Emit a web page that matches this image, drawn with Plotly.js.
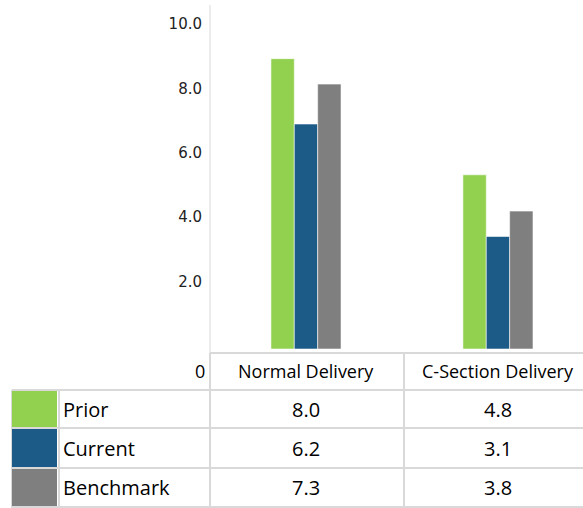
<!DOCTYPE html>
<html><head><meta charset="utf-8">
<script src="https://cdn.plot.ly/plotly-3.0.1.min.js"></script>
<style>html,body{margin:0;padding:0;background:#fff}#chart{width:583px;height:508px}</style>
</head><body><div id="chart"></div>
<script>
const categories = ['Normal Delivery', 'C-Section Delivery'];
const seriesNames = ['Prior', 'Current', 'Benchmark'];
const prior = [8.0, 4.8];
const current = [6.2, 3.1];
const benchmark = [7.3, 3.8];
const yTickText = ['10.0', '8.0', '6.0', '4.0', '2.0'];
const zeroLabel = '0';

const seriesValues = [prior, current, benchmark];
const colors = ['#92d050', '#1c5a87', '#7f7f7f'];

// layout geometry (pixels)
const W = 583, H = 508;
const L = 210, T = 5, BASE = 349;
const plotH = BASE - T;
const pyP = p => (BASE - p) / plotH;   // pixel y -> paper
const pxP = p => (p - L) / (W - L);    // pixel x -> paper
const yTickVals = [8.95, 7.18, 5.40, 3.64, 1.85];

const traces = seriesNames.map((n, i) => ({
  type: 'bar', name: n, x: categories, y: seriesValues[i],
  marker: {color: colors[i], line: {color: 'rgba(255,255,255,0.55)', width: 1}},
  hoverinfo: 'skip'
}));

const lineC = '#d9d9d9';
const shapes = [];
const annotations = [];
const hline = (y, x0, x1) => shapes.push({type: 'line', xref: 'paper', yref: 'paper', x0: pxP(x0), x1: pxP(x1), y0: pyP(y), y1: pyP(y), line: {color: lineC, width: 2}});
const vline = (x, y0, y1, w) => shapes.push({type: 'line', xref: 'paper', yref: 'paper', x0: pxP(x), x1: pxP(x), y0: pyP(y0), y1: pyP(y1), line: {color: lineC, width: w || 2}});

hline(353, 210, 600);
hline(390, 12, 600);
hline(428, 12, 600);
hline(468, 12, 600);
hline(507, 12, 600);
vline(210, 5, 353, 1);
vline(210, 353, 508);
vline(404, 353, 508);
vline(59, 390, 508);
vline(12, 390, 508);

const rows = [[391, 427], [429, 467], [469, 506]];
const family = 'Open Sans, Noto Sans, sans-serif';
const bodyFont = {family: family, size: 20, color: '#000'};
const headFont = {family: family, size: 18, color: '#000'};

seriesNames.forEach((n, i) => {
  const [a, b] = rows[i];
  shapes.push({type: 'rect', xref: 'paper', yref: 'paper', x0: pxP(12), x1: pxP(57), y0: pyP(a), y1: pyP(b), fillcolor: colors[i], line: {width: 0}});
  const yc = pyP((a + b) / 2);
  annotations.push({xref: 'paper', yref: 'paper', x: pxP(61), y: yc, xanchor: 'left', yanchor: 'middle', text: n, showarrow: false, font: bodyFont});
  categories.forEach((c, j) => {
    annotations.push({xref: 'x', yref: 'paper', x: c, y: yc, xanchor: 'center', yanchor: 'middle', text: seriesValues[i][j].toFixed(1), showarrow: false, font: bodyFont});
  });
});
categories.forEach(c => {
  annotations.push({xref: 'x', yref: 'paper', x: c, y: pyP(371), xanchor: 'center', yanchor: 'middle', text: c, showarrow: false, font: headFont});
});
annotations.push({xref: 'paper', yref: 'paper', x: pxP(207), y: pyP(371), xanchor: 'right', yanchor: 'middle', text: zeroLabel, showarrow: false, font: headFont});

const layout = {
  width: W, height: H,
  margin: {l: L, r: 0, t: T, b: H - BASE, pad: 0},
  paper_bgcolor: '#fff', plot_bgcolor: '#fff',
  showlegend: false,
  barmode: 'group', bargap: 0.635, bargroupgap: 0,
  xaxis: {type: 'category', range: [-0.5, 1.443], showticklabels: false, showgrid: false, zeroline: false, showline: false, ticks: ''},
  yaxis: {range: [0, 9.48], tickmode: 'array', tickvals: yTickVals, ticktext: yTickText, showgrid: false, zeroline: false, showline: false, ticks: '', ticklabelstandoff: 7,
    tickfont: {family: 'DejaVu Sans, Verdana, sans-serif', size: 15, color: '#222'}},
  shapes: shapes, annotations: annotations,
  hovermode: false
};
Plotly.newPlot('chart', traces, layout, {staticPlot: true, displayModeBar: false});
</script></body></html>
